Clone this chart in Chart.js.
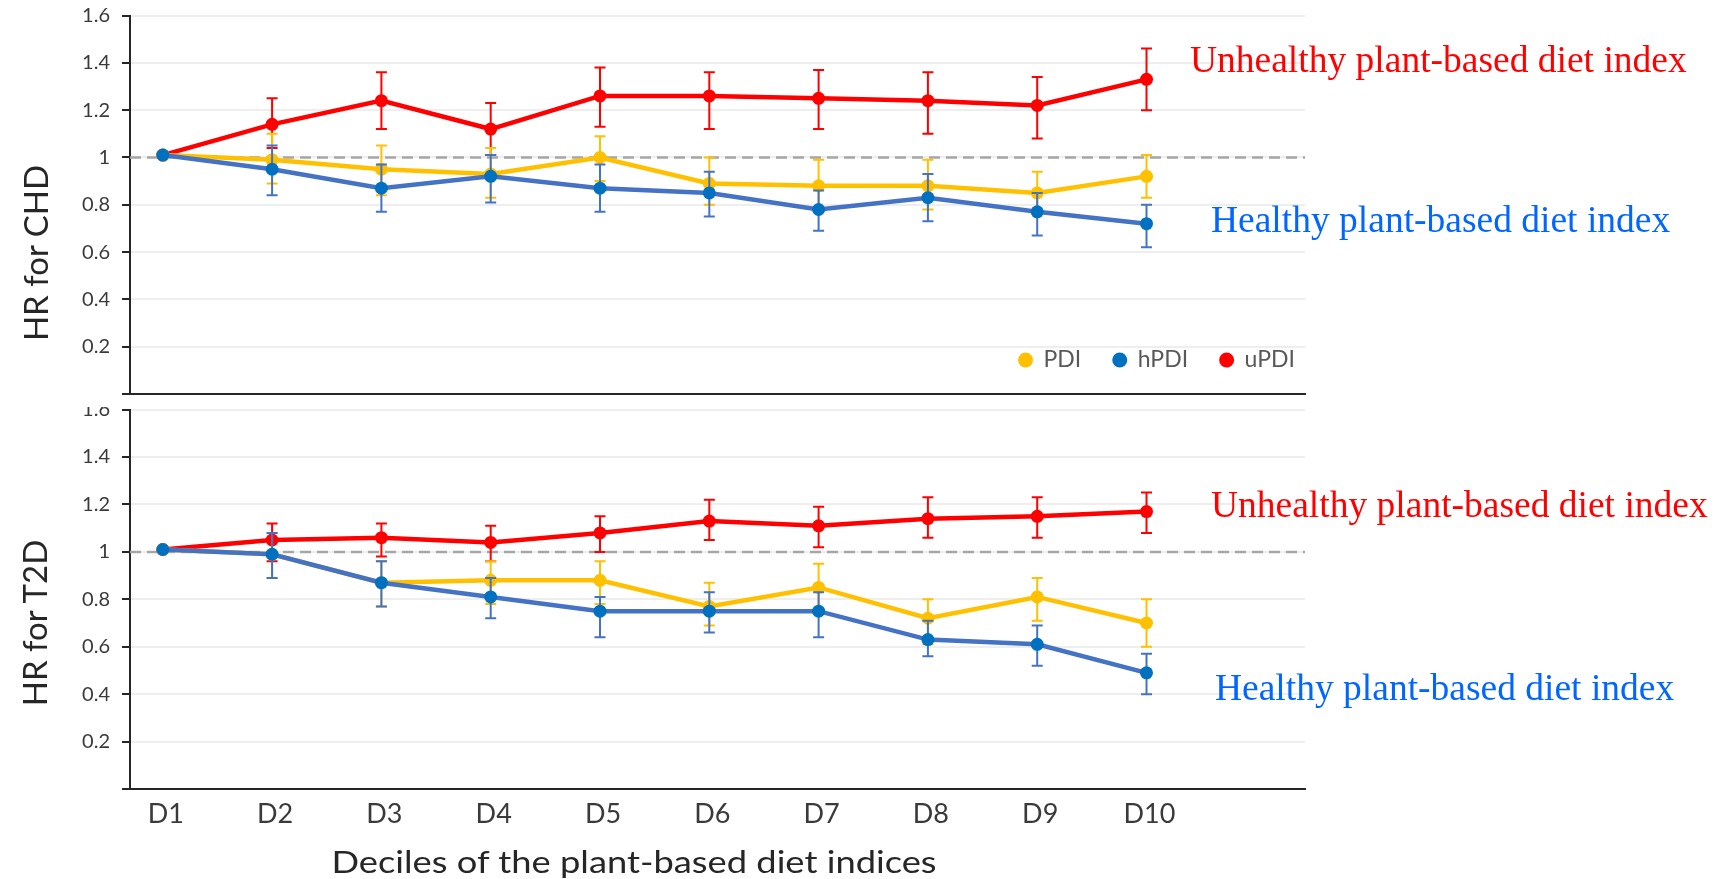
<!DOCTYPE html>
<html>
<head>
<meta charset="utf-8">
<title>Plant-based diet indices and HR for CHD / T2D</title>
<script src="https://cdn.jsdelivr.net/npm/chart.js@4.4.1/dist/chart.umd.min.js"></script>
<style>
  html, body { margin: 0; padding: 0; background: #fff; }
  body { width: 1724px; height: 879px; position: relative; overflow: hidden; }
  #chd { position: absolute; left: 0; top: 0; z-index: 2; background: #fff; }
  #t2d { position: absolute; left: 0; top: 396px; z-index: 1; }
  .lbl { position: absolute; white-space: nowrap; line-height: 1; z-index: 3; }
  .note { font-family: "Liberation Serif", "Times New Roman", serif; font-size: 37.5px; }
  .red { color: #ff0000; }
  .blue { color: #0066ff; }
  .axis-title { font-family: Lato, "Open Sans", sans-serif; color: #262626; }
  .ytitle { font-size: 33px; transform: translate(-50%, -50%) rotate(-90deg); }
</style>
</head>
<body>
<canvas id="chd" width="1724" height="407"></canvas>
<canvas id="t2d" width="1724" height="483"></canvas>

<div class="lbl axis-title ytitle" style="left:35px; top:253px;">HR for CHD</div>
<div class="lbl axis-title ytitle" style="left:34px; top:623px;">HR for T2D</div>
<div class="lbl axis-title" style="left:634px; top:846px; font-size:30px; transform:translateX(-50%) scaleX(1.21);">Deciles of the plant-based diet indices</div>

<div class="lbl note red"  style="left:1190px; top:41px;">Unhealthy plant-based diet index</div>
<div class="lbl note blue" style="left:1211px; top:201px;">Healthy plant-based diet index</div>
<div class="lbl note red"  style="left:1211px; top:486px;">Unhealthy plant-based diet index</div>
<div class="lbl note blue" style="left:1215px; top:669px;">Healthy plant-based diet index</div>

<script>
// ---- categories and axis ticks ----
const categories = ['D1', 'D2', 'D3', 'D4', 'D5', 'D6', 'D7', 'D8', 'D9', 'D10'];
const yTickValues = [0, 0.2, 0.4, 0.6, 0.8, 1, 1.2, 1.4, 1.6];
const referenceHR = 1;

// ---- HR for coronary heart disease (point estimate, lower / upper CI) ----
const chdPdi      = [1.01, 0.99, 0.95, 0.93, 1.00, 0.89, 0.88, 0.88, 0.85, 0.92];
const chdPdiLow   = [null, 0.89, 0.84, 0.83, 0.90, 0.80, 0.78, 0.78, 0.76, 0.83];
const chdPdiHigh  = [null, 1.10, 1.05, 1.04, 1.09, 1.00, 0.99, 0.99, 0.94, 1.01];

const chdHpdi     = [1.01, 0.95, 0.87, 0.92, 0.87, 0.85, 0.78, 0.83, 0.77, 0.72];
const chdHpdiLow  = [null, 0.84, 0.77, 0.81, 0.77, 0.75, 0.69, 0.73, 0.67, 0.62];
const chdHpdiHigh = [null, 1.05, 0.97, 1.01, 0.97, 0.94, 0.86, 0.93, 0.85, 0.80];

const chdUpdi     = [1.01, 1.14, 1.24, 1.12, 1.26, 1.26, 1.25, 1.24, 1.22, 1.33];
const chdUpdiLow  = [null, 1.04, 1.12, 1.01, 1.13, 1.12, 1.12, 1.10, 1.08, 1.20];
const chdUpdiHigh = [null, 1.25, 1.36, 1.23, 1.38, 1.36, 1.37, 1.36, 1.34, 1.46];

// ---- HR for type 2 diabetes (point estimate, lower / upper CI) ----
const t2dPdi      = [1.01, 0.99, 0.87, 0.88, 0.88, 0.77, 0.85, 0.72, 0.81, 0.70];
const t2dPdiLow   = [null, 0.89, 0.77, 0.78, 0.78, 0.69, 0.75, 0.61, 0.71, 0.60];
const t2dPdiHigh  = [null, 1.08, 0.96, 0.96, 0.96, 0.87, 0.95, 0.80, 0.89, 0.80];

const t2dHpdi     = [1.01, 0.99, 0.87, 0.81, 0.75, 0.75, 0.75, 0.63, 0.61, 0.49];
const t2dHpdiLow  = [null, 0.89, 0.77, 0.72, 0.64, 0.66, 0.64, 0.56, 0.52, 0.40];
const t2dHpdiHigh = [null, 1.08, 0.96, 0.89, 0.81, 0.83, 0.83, 0.71, 0.69, 0.57];

const t2dUpdi     = [1.01, 1.05, 1.06, 1.04, 1.08, 1.13, 1.11, 1.14, 1.15, 1.17];
const t2dUpdiLow  = [null, 0.96, 0.98, 0.96, 1.00, 1.05, 1.02, 1.06, 1.06, 1.08];
const t2dUpdiHigh = [null, 1.12, 1.12, 1.11, 1.15, 1.22, 1.19, 1.23, 1.23, 1.25];

// ---- series styling ----
const seriesStyle = {
  PDI:  { line: '#ffc000', dot: '#ffc000', err: '#ffc000', order: 1 },
  hPDI: { line: '#4472c4', dot: '#0070c0', err: '#4472c4', order: 0 },
  uPDI: { line: '#ff0000', dot: '#ff0000', err: '#ff0000', order: 2 }
};

const FONT = 'Lato, "Open Sans", sans-serif';

function makeDataset(label, values, low, high) {
  const s = seriesStyle[label];
  return {
    label,
    data: values.map((v, i) => ({ x: i + 1, y: v })),
    errLow: low,
    errHigh: high,
    errColor: s.err,
    borderColor: s.line,
    backgroundColor: s.dot,
    pointBackgroundColor: s.dot,
    pointBorderWidth: 0,
    pointRadius: 6.5,
    borderWidth: 4.5,
    tension: 0,
    fill: false,
    order: s.order
  };
}

// vertical confidence-interval whiskers, drawn under each series' line and dots
const errorBars = {
  id: 'errorBars',
  beforeDatasetDraw(chart, args) {
    const ds = chart.data.datasets[args.index];
    if (!ds.errLow) return;
    const { ctx } = chart;
    const xs = chart.scales.x, ys = chart.scales.y;
    const cap = 5.5;
    ctx.save();
    ctx.strokeStyle = ds.errColor;
    ctx.lineWidth = 2;
    ds.data.forEach((pt, i) => {
      const lo = ds.errLow[i], hi = ds.errHigh[i];
      if (lo == null || hi == null) return;
      const x = xs.getPixelForValue(pt.x);
      const yl = ys.getPixelForValue(lo);
      const yh = ys.getPixelForValue(hi);
      ctx.beginPath();
      ctx.moveTo(x, yl); ctx.lineTo(x, yh);
      ctx.moveTo(x - cap, yl); ctx.lineTo(x + cap, yl);
      ctx.moveTo(x - cap, yh); ctx.lineTo(x + cap, yh);
      ctx.stroke();
    });
    ctx.restore();
  }
};

// dashed reference line at HR = 1
const referenceLine = {
  id: 'referenceLine',
  beforeDatasetsDraw(chart) {
    const { ctx, chartArea } = chart;
    const y = chart.scales.y.getPixelForValue(referenceHR);
    ctx.save();
    ctx.strokeStyle = '#a6a6a6';
    ctx.lineWidth = 2.5;
    ctx.setLineDash([11, 6]);
    ctx.beginPath();
    ctx.moveTo(chartArea.left, y);
    ctx.lineTo(chartArea.right, y);
    ctx.stroke();
    ctx.restore();
  }
};

// legend placed inside the plot area, bottom right
const insideLegend = {
  id: 'insideLegend',
  afterDatasetsDraw(chart, args, opts) {
    if (!opts.show) return;
    const { ctx, chartArea } = chart;
    const r = 7.5, textGap = 18, itemGap = 31;
    ctx.save();
    ctx.font = '23px ' + FONT;
    ctx.textBaseline = 'middle';
    const items = chart.data.datasets.map(ds => ({
      text: ds.label, color: ds.pointBackgroundColor, w: ctx.measureText(ds.label).width
    }));
    let total = r;
    items.forEach((it, i) => { total += textGap + it.w + (i < items.length - 1 ? itemGap + r : 0); });
    let cx = chartArea.right - 10 - total + r;
    const y = chartArea.bottom - 34;
    items.forEach(it => {
      ctx.fillStyle = it.color;
      ctx.beginPath();
      ctx.arc(cx, y, r, 0, Math.PI * 2);
      ctx.fill();
      ctx.fillStyle = '#595959';
      ctx.fillText(it.text, cx + textGap, y);
      cx += textGap + it.w + itemGap + r;
    });
    ctx.restore();
  }
};

function makeChart(canvasId, datasets, cfg) {
  return new Chart(document.getElementById(canvasId), {
    type: 'line',
    data: { datasets },
    plugins: [referenceLine, errorBars, insideLegend],
    options: {
      responsive: false,
      devicePixelRatio: 1,
      animation: false,
      events: [],
      layout: { padding: cfg.padding },
      plugins: {
        legend: { display: false },
        tooltip: { enabled: false },
        insideLegend: { show: cfg.legend }
      },
      scales: {
        x: {
          type: 'linear',
          bounds: 'data',
          min: 0.7,
          max: 11.45,
          afterBuildTicks: s => { s.ticks = categories.map((c, i) => ({ value: i + 1 })); },
          afterFit: s => { s.height = cfg.xHeight; s.paddingLeft = 0; s.paddingRight = 0; },
          grid: { display: false },
          border: { display: true, color: '#262626', width: 2 },
          ticks: {
            display: cfg.xLabels,
            autoSkip: false,
            maxRotation: 0,
            padding: 1,
            labelOffset: 3,
            color: '#3a3a3a',
            font: { family: FONT, size: 27 },
            callback: (v, i) => categories[i]
          }
        },
        y: {
          type: 'linear',
          bounds: 'data',
          min: 0,
          max: 1.6,
          afterBuildTicks: s => { s.ticks = yTickValues.map(v => ({ value: v })); },
          afterFit: s => { s.width = 70; s.paddingTop = 0; s.paddingBottom = 0; },
          grid: {
            color: '#eeeeee',
            lineWidth: 2,
            drawTicks: true,
            tickLength: 8,
            tickColor: '#262626',
            tickWidth: 2
          },
          border: { display: true, color: '#262626', width: 2 },
          ticks: {
            padding: 12,
            color: '#3a3a3a',
            font: { family: FONT, size: 20 },
            callback: v => (v === 0 ? '' : String(+v.toFixed(1)))
          }
        }
      }
    }
  });
}

makeChart('chd', [
  makeDataset('PDI', chdPdi, chdPdiLow, chdPdiHigh),
  makeDataset('hPDI', chdHpdi, chdHpdiLow, chdHpdiHigh),
  makeDataset('uPDI', chdUpdi, chdUpdiLow, chdUpdiHigh)
], { padding: { left: 60, right: 419, top: 15.5, bottom: 13 }, xHeight: 0, xLabels: false, legend: true });

makeChart('t2d', [
  makeDataset('PDI', t2dPdi, t2dPdiLow, t2dPdiHigh),
  makeDataset('hPDI', t2dHpdi, t2dHpdiLow, t2dHpdiHigh),
  makeDataset('uPDI', t2dUpdi, t2dUpdiLow, t2dUpdiHigh)
], { padding: { left: 60, right: 419, top: 13.6, bottom: 40 }, xHeight: 50, xLabels: true, legend: false });
</script>
</body>
</html>
